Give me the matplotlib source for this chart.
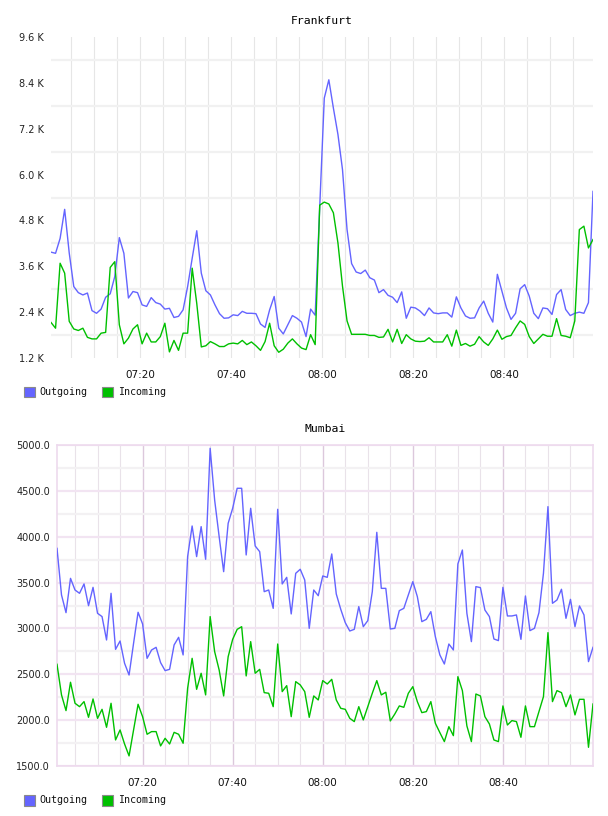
import matplotlib
matplotlib.use("Agg")
import matplotlib.pyplot as plt
from matplotlib.patches import Rectangle
import pandas as pd

W, H = 608, 816

# Frankfurt, in K (one sample per minute)
frankfurt_out = [3.97, 3.94, 4.33, 5.09, 3.95, 3.07, 2.91, 2.85, 2.90, 2.44,
                 2.37, 2.48, 2.79, 2.88, 3.33, 4.35, 3.94, 2.77, 2.94, 2.91,
                 2.59, 2.55, 2.78, 2.65, 2.61, 2.48, 2.50, 2.26, 2.29, 2.46,
                 3.07, 3.81, 4.53, 3.42, 2.96, 2.85, 2.59, 2.36, 2.24, 2.25,
                 2.33, 2.31, 2.42, 2.37, 2.37, 2.36, 2.09, 2.00, 2.46, 2.81,
                 1.98, 1.83, 2.07, 2.31, 2.24, 2.14, 1.76, 2.48, 2.32, 5.15,
                 8.00, 8.48, 7.74, 7.05, 6.13, 4.56, 3.67, 3.45, 3.41, 3.50,
                 3.30, 3.24, 2.91, 2.99, 2.84, 2.79, 2.65, 2.93, 2.24, 2.53,
                 2.51, 2.43, 2.31, 2.51, 2.38, 2.36, 2.38, 2.38, 2.27, 2.80,
                 2.51, 2.30, 2.24, 2.25, 2.51, 2.69, 2.37, 2.14, 3.39, 2.95,
                 2.51, 2.21, 2.37, 3.01, 3.12, 2.82, 2.37, 2.23, 2.51, 2.49,
                 2.34, 2.86, 2.99, 2.47, 2.31, 2.37, 2.40, 2.37, 2.65, 5.56]
frankfurt_in = [2.13, 1.98, 3.68, 3.42, 2.16, 1.96, 1.92, 1.98, 1.74, 1.70,
                1.70, 1.85, 1.87, 3.57, 3.72, 2.07, 1.57, 1.72, 1.96, 2.07,
                1.57, 1.85, 1.62, 1.62, 1.76, 2.11, 1.36, 1.66, 1.40, 1.85,
                1.85, 3.55, 2.63, 1.49, 1.52, 1.63, 1.57, 1.50, 1.50, 1.57,
                1.59, 1.57, 1.66, 1.55, 1.62, 1.52, 1.40, 1.63, 2.11, 1.52,
                1.35, 1.43, 1.59, 1.70, 1.57, 1.46, 1.42, 1.81, 1.55, 5.20,
                5.28, 5.23, 5.00, 4.21, 3.08, 2.17, 1.82, 1.82, 1.82, 1.82,
                1.79, 1.79, 1.74, 1.75, 1.95, 1.62, 1.95, 1.58, 1.81, 1.70,
                1.64, 1.63, 1.64, 1.73, 1.62, 1.62, 1.62, 1.81, 1.51, 1.93,
                1.53, 1.58, 1.51, 1.56, 1.76, 1.62, 1.53, 1.70, 1.93, 1.69,
                1.76, 1.79, 1.99, 2.17, 2.08, 1.76, 1.58, 1.70, 1.82, 1.77,
                1.77, 2.23, 1.79, 1.77, 1.73, 2.17, 4.56, 4.65, 4.08, 4.30]

mumbai_out = [3873, 3365, 3172, 3546, 3419, 3383, 3485, 3248, 3448, 3165,
              3129, 2874, 3383, 2772, 2863, 2620, 2492, 2838, 3176, 3049,
              2674, 2765, 2794, 2627, 2540, 2554, 2820, 2903, 2711, 3783,
              4117, 3783, 4110, 3754, 4964, 4400, 4001, 3619, 4146, 4310,
              4528, 4528, 3801, 4310, 3899, 3837, 3401, 3419, 3219, 4299,
              3485, 3557, 3158, 3601, 3645, 3528, 3001, 3419, 3357, 3572,
              3557, 3812, 3376, 3208, 3063, 2972, 2990, 3238, 3019, 3085,
              3401, 4048, 3437, 3437, 2994, 3001, 3194, 3219, 3365, 3510,
              3347, 3074, 3099, 3183, 2910, 2711, 2612, 2830, 2765, 3703,
              3855, 3165, 2856, 3456, 3445, 3201, 3129, 2885, 2867, 3448,
              3136, 3136, 3147, 2881, 3354, 2976, 3001, 3172, 3601, 4328,
              3274, 3310, 3427, 3110, 3317, 3019, 3245, 3147, 2638, 2794]
mumbai_in = [2609, 2275, 2104, 2413, 2184, 2147, 2202, 2031, 2231, 2020,
             2118, 1922, 2184, 1784, 1893, 1740, 1610, 1893, 2173, 2038,
             1846, 1875, 1875, 1719, 1802, 1740, 1867, 1846, 1748, 2347,
             2674, 2336, 2511, 2275, 3129, 2747, 2547, 2264, 2692, 2881,
             2990, 3019, 2482, 2856, 2511, 2554, 2300, 2293, 2147, 2830,
             2311, 2376, 2038, 2420, 2384, 2311, 2031, 2264, 2220, 2431,
             2394, 2445, 2220, 2129, 2118, 2020, 1984, 2147, 2002, 2147,
             2293, 2431, 2275, 2304, 1991, 2067, 2155, 2140, 2293, 2365,
             2202, 2082, 2093, 2202, 1966, 1864, 1766, 1929, 1831, 2474,
             2322, 1937, 1766, 2285, 2264, 2038, 1958, 1784, 1766, 2155,
             1947, 1995, 1984, 1813, 2155, 1929, 1929, 2093, 2256, 2954,
             2202, 2322, 2300, 2147, 2275, 2057, 2227, 2227, 1704, 2176]

frankfurt_time = pd.date_range("2024-01-01 07:00:30", periods=len(frankfurt_out), freq="1min")
mumbai_time = pd.date_range("2024-01-01 07:01:00", periods=len(mumbai_out), freq="1min")

time_labels = ["07:20", "07:40", "08:00", "08:20", "08:40"]
frankfurt_yticks = [1.2, 2.4, 3.6, 4.8, 6.0, 7.2, 8.4, 9.6]
mumbai_yticks = [1500, 2000, 2500, 3000, 3500, 4000, 4500, 5000]
series_names = ["Outgoing", "Incoming"]

OUT_C = "#6464ff"
IN_C = "#00c000"
MONO = "DejaVu Sans Mono"


def box(left, top, right, bottom):
    return [left / W, 1 - bottom / H, (right - left) / W, (bottom - top) / H]


def legend(y):
    for (sx, tx, name, c) in [(24, 39, series_names[0], OUT_C), (102, 118, series_names[1], IN_C)]:
        fig.add_artist(Rectangle((sx / W, 1 - (y + 5.5) / H), 11 / W, 11 / H,
                                 transform=fig.transFigure, facecolor=c,
                                 edgecolor="#8a8a8a", lw=0.8))
        fig.text(tx / W, 1 - y / H, name, family=MONO, fontsize=7.2,
                 va="center", ha="left", color="#111111")


fig = plt.figure(figsize=(W / 100, H / 100), dpi=100)
tick_dates = [pd.Timestamp("2024-01-01 " + t) for t in time_labels]
five_min = pd.date_range("2024-01-01 07:05", "2024-01-01 08:55", freq="5min")

# ---- Frankfurt ----
ax1 = fig.add_axes(box(51, 37, 593, 358))
ax1.plot(frankfurt_time, frankfurt_out, color=OUT_C, lw=1.0, zorder=3)
ax1.plot(frankfurt_time, frankfurt_in, color=IN_C, lw=1.0, zorder=3)
ax1.set_xlim(frankfurt_time[0], frankfurt_time[-1])
ax1.set_ylim(1.2, 9.6)
ax1.set_yticks(frankfurt_yticks)
ax1.set_yticklabels([f"{v:.1f} K" for v in frankfurt_yticks])
ax1.set_yticks([v + 0.6 for v in frankfurt_yticks[:-1]], minor=True)
ax1.set_xticks(tick_dates)
ax1.set_xticklabels(time_labels)
ax1.set_xticks(five_min, minor=True)
ax1.grid(True, which="minor", axis="y", color="#f1f1f1", lw=1.6, zorder=0)
ax1.grid(True, which="both", axis="x", color="#e6e6e6", lw=0.8, zorder=0)
for s in ax1.spines.values():
    s.set_visible(False)
ax1.set_title("Frankfurt", family=MONO, fontsize=8.2, pad=9.5)

# ---- Mumbai ----
ax2 = fig.add_axes(box(57, 445, 593, 766))
ax2.plot(mumbai_time, mumbai_out, color=OUT_C, lw=1.0, zorder=3)
ax2.plot(mumbai_time, mumbai_in, color=IN_C, lw=1.0, zorder=3)
ax2.set_xlim(mumbai_time[0], mumbai_time[-1])
ax2.set_ylim(1500, 5000)
ax2.set_yticks(mumbai_yticks)
ax2.set_yticklabels([f"{v:.1f}" for v in mumbai_yticks])
ax2.set_yticks([v + 250 for v in mumbai_yticks[:-1]], minor=True)
ax2.set_xticks(tick_dates)
ax2.set_xticklabels(time_labels)
ax2.set_xticks(five_min, minor=True)
ax2.grid(True, which="major", axis="y", color="#f2e4f2", lw=1.6, zorder=0)
ax2.grid(True, which="minor", axis="y", color="#f3f1f3", lw=1.6, zorder=0)
ax2.grid(True, which="major", axis="x", color="#dcc8dc", lw=1.0, zorder=0)
ax2.grid(True, which="minor", axis="x", color="#e9e2e9", lw=0.8, zorder=0)
for s in ax2.spines.values():
    s.set_color("#eedaee")
    s.set_linewidth(1.2)
ax2.set_title("Mumbai", family=MONO, fontsize=8.2, pad=9)

for ax in (ax1, ax2):
    ax.tick_params(which="both", length=0)
    ax.tick_params(axis="x", pad=8.5, labelsize=7.5, labelcolor="#111111")
    ax.tick_params(axis="y", pad=5, labelsize=7, labelcolor="#222222")

legend(392)
legend(800)

fig.savefig("out.png", dpi=100)
